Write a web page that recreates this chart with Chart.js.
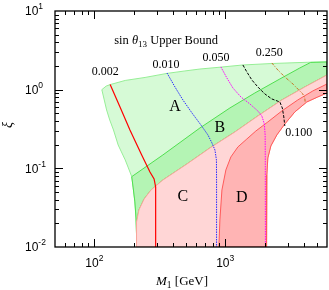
<!DOCTYPE html>
<html>
<head>
<meta charset="utf-8">
<script src="https://cdn.jsdelivr.net/npm/chart.js@4.4.0/dist/chart.umd.min.js"></script>
<style>
  html, body { margin: 0; padding: 0; background: #fff; }
  #wrap { width: 329px; height: 290px; }
</style>
</head>
<body>
<div id="wrap"><canvas id="grafica" width="329" height="290"></canvas></div>
<script>
// region boundaries, points are [M1 (GeV), xi]
const topEdge = [[114,1.0],[123,1.11],[132,1.16],[172,1.31],[244,1.43],[359,1.61],[492,1.73],[641,1.83],[944,1.94],[1365,2.06],[2272,2.15],[4279,2.23],[6000,2.25]]
const leftEdge = [[114,1.0],[119,0.74],[124,0.552],[131,0.412],[140,0.307],[152,0.198],[161,0.1615],[172,0.128],[182,0.101],[193,0.0784],[198,0.0563],[204,0.0374],[208,0.0234],[210,0.0142],[210,0.01]]
const greenLine = [[193,0.0784],[334,0.148],[641,0.326],[1086,0.585],[1686,0.908],[2616,1.368],[3718,1.887],[4500,2.22]]
const pinkTop = [[210,0.01],[210,0.0208],[219,0.0296],[240,0.0408],[271,0.0531],[334,0.0711],[510,0.1136],[764,0.1815],[1186,0.29],[1777,0.463],[2709,0.74],[4059,1.082],[6000,1.538]]
const redEdge = [[895,0.01],[911,0.0221],[944,0.0531],[1012,0.0954],[1105,0.1395],[1250,0.187],[1464,0.236],[1716,0.2985],[2118,0.3886],[2709,0.536],[3589,0.74],[4672,0.963],[6000,1.181]]
const lowerEdge = [[2070,0.01],[2070,0.0296],[2081,0.0823],[2118,0.1355],[2233,0.1925],[2481,0.2655],[2856,0.3664],[3404,0.5206],[4204,0.6977],[5101,0.8077],[6000,0.908]]

// sin theta13 contours
const s002 = [[132,1.164],[157,0.603],[187,0.307],[230,0.148],[266,0.0899],[286,0.0733],[294,0.058],[294,0.0296],[294,0.01]]
const s010 = [[359,1.63],[413,1.082],[475,0.74],[557,0.506],[652,0.356],[738,0.2655],[792,0.21],[835,0.171],[857,0.128],[859,0.0711],[859,0.01]]
const s050 = [[927,1.944],[1030,1.408],[1145,1.051],[1318,0.808],[1544,0.658],[1777,0.536],[1906,0.463],[1992,0.366],[2020,0.2655],[2025,0.128],[2030,0.01]]
const s100 = [[1365,2.061],[1464,1.679],[1599,1.328],[1777,1.082],[2010,0.882],[2272,0.762],[2616,0.698],[2733,0.585],[2805,0.45],[2856,0.346]]
const s250 = [[2272,2.185],[2525,1.78],[2856,1.45],[3230,1.217],[3589,1.02],[3918,0.882],[4059,0.784],[4091,0.677]]

const curveNames = ['0.002','0.010','0.050','0.100','0.250']
const curveNameAt = [[121,1.68],[353,2.06],[849,2.53],[3653,0.282],[2175,2.93]]
const regionNames = ['A','B','C','D']
const regionAt = [[413,0.603],[911,0.326],[475,0.0433],[1341,0.042]]
const titleAt = [353,4.28]

const xMajor = [100, 1000]
const yMajor = [0.01, 0.1, 1, 10]
const xMin = 50, xMax = 6000, yMin = 0.01, yMax = 10

const pts = arr => arr.map(p => ({x: p[0], y: p[1]}))
const rev = arr => arr.slice().reverse()

const greenAll = topEdge.concat([[6000,1.538]], rev(pinkTop), rev(leftEdge))
const greenBand = greenLine.concat([[6000,2.25],[6000,1.538]], rev(pinkTop), rev(leftEdge).slice(1, 6))
const pinkAll = pinkTop.concat(rev(lowerEdge), [[210,0.01]])
const pinkD = redEdge.concat(rev(lowerEdge), [[895,0.01]])

function zona(d, fondo, borde){
    return {data: pts(d), backgroundColor: fondo, borderColor: borde, borderWidth: 1, fill: 'shape', pointRadius: 0, tension: 0}
}
function curva(d, color, dash, w){
    return {data: pts(d), borderColor: color, borderWidth: w || 1, borderDash: dash, fill: false, pointRadius: 0, tension: 0}
}

const capas = [
    zona(greenAll, 'rgb(214,250,214)', 'rgb(150,238,150)'),
    zona(greenBand, 'rgb(180,244,180)', 'rgb(80,224,80)'),
    zona(pinkAll, 'rgb(255,214,214)', 'rgb(250,165,155)'),
    zona(pinkD, 'rgb(255,180,180)', 'rgb(255,90,90)'),
    curva(s002, '#ff0000', [], 1.2),
    curva(s010, '#2a2aff', [1.5, 1]),
    curva(s050, '#ff00ff', [1.5, 1]),
    curva(s100, '#000000', [3, 1.5]),
    curva(s250, '#c8701e', [3, 1.5, 1, 1.5])
]
capas.forEach((c, i) => { c.order = capas.length - i })

function partes(ctx, lista, cx, base){
    let total = 0
    lista.forEach(p => { ctx.font = p[1]; total += ctx.measureText(p[0]).width })
    let px = cx - total / 2
    ctx.textAlign = 'left'
    ctx.textBaseline = 'alphabetic'
    lista.forEach(p => {
        ctx.font = p[1]
        ctx.fillText(p[0], px, base + (p[2] || 0))
        px += ctx.measureText(p[0]).width
    })
}

const marco = {
    id: 'marco',
    afterDraw(chart){
        const {ctx, chartArea: a} = chart
        const x = chart.scales.x, y = chart.scales.y
        ctx.save()
        ctx.strokeStyle = '#000'
        ctx.fillStyle = '#000'
        ctx.lineWidth = 1
        ctx.beginPath()
        for (let e = 1; e <= 3; e++){
            for (let k = 1; k <= 9; k++){
                const v = k * Math.pow(10, e)
                if (v <= xMin || v >= xMax) continue
                const px = Math.round(x.getPixelForValue(v)) + 0.5
                const L = k === 1 ? 8 : 4
                ctx.moveTo(px, a.bottom); ctx.lineTo(px, a.bottom - L)
                ctx.moveTo(px, a.top); ctx.lineTo(px, a.top + L)
            }
        }
        for (let e = -2; e <= 0; e++){
            for (let k = 1; k <= 9; k++){
                const v = k * Math.pow(10, e)
                if (v <= yMin || v >= yMax) continue
                const py = Math.round(y.getPixelForValue(v)) + 0.5
                const L = k === 1 ? 8 : 4
                ctx.moveTo(a.left, py); ctx.lineTo(a.left + L, py)
                ctx.moveTo(a.right, py); ctx.lineTo(a.right - L, py)
            }
        }
        ctx.stroke()
        ctx.lineWidth = 1.3
        ctx.strokeRect(a.left, a.top, a.right - a.left, a.bottom - a.top)

        // tick labels 10^n
        const sans = '"Liberation Sans", Arial, sans-serif'
        ctx.textBaseline = 'middle'
        ctx.textAlign = 'left'
        yMajor.forEach(v => {
            const py = y.getPixelForValue(v)
            const ex = String(Math.round(Math.log10(v)))
            ctx.font = '12px ' + sans
            ctx.fillText('10', a.left - 30, py + 1)
            const w = ctx.measureText('10').width
            ctx.font = '8.5px ' + sans
            ctx.fillText(ex, a.left - 30 + w, py - 4)
        })
        xMajor.forEach(v => {
            const px = x.getPixelForValue(v)
            const ex = String(Math.round(Math.log10(v)))
            ctx.font = '12px ' + sans
            const w = ctx.measureText('10').width
            ctx.font = '8.5px ' + sans
            const we = ctx.measureText(ex).width
            const x0 = px - (w + we) / 2
            ctx.font = '12px ' + sans
            ctx.fillText('10', x0, a.bottom + 17)
            ctx.font = '8.5px ' + sans
            ctx.fillText(ex, x0 + w, a.bottom + 12)
        })

        const serif = '"Liberation Serif", "Times New Roman", serif'
        // axis titles
        partes(ctx, [['M', 'italic 13px ' + serif], ['1', '9.5px ' + serif, 3], [' [GeV]', '13px ' + serif]], a.left + 127, a.bottom + 38)
        ctx.save()
        ctx.translate(a.left - 47, (a.top + a.bottom) / 2 - 4)
        ctx.rotate(-Math.PI / 2)
        ctx.font = 'italic 14px ' + serif
        ctx.textAlign = 'center'
        ctx.textBaseline = 'middle'
        ctx.fillText('ξ', 0, 0)
        ctx.restore()

        // title inside the frame
        partes(ctx, [['sin ', '12.5px ' + serif], ['θ', 'italic 12.5px ' + serif], ['13', '9px ' + serif, 3], [' Upper Bound', '12.5px ' + serif]],
            x.getPixelForValue(titleAt[0]), y.getPixelForValue(titleAt[1]) + 4)

        ctx.textAlign = 'center'
        ctx.textBaseline = 'middle'
        ctx.font = '12px ' + serif
        curveNames.forEach((t, i) => {
            ctx.fillText(t, x.getPixelForValue(curveNameAt[i][0]), y.getPixelForValue(curveNameAt[i][1]))
        })
        ctx.font = '16px ' + serif
        regionNames.forEach((t, i) => {
            ctx.fillText(t, x.getPixelForValue(regionAt[i][0]), y.getPixelForValue(regionAt[i][1]))
        })
        ctx.restore()
    }
}

const grafica = new Chart(document.getElementById('grafica'), {
    type: 'line',
    data: { datasets: capas },
    options: {
        responsive: false,
        animation: false,
        devicePixelRatio: 1,
        layout: { padding: { left: 55, right: 2, top: 11, bottom: 43 } },
        plugins: { legend: { display: false }, tooltip: { enabled: false } },
        scales: {
            x: { type: 'logarithmic', min: xMin, max: xMax, display: false },
            y: { type: 'logarithmic', min: yMin, max: yMax, display: false }
        }
    },
    plugins: [marco]
})
</script>
</body>
</html>
